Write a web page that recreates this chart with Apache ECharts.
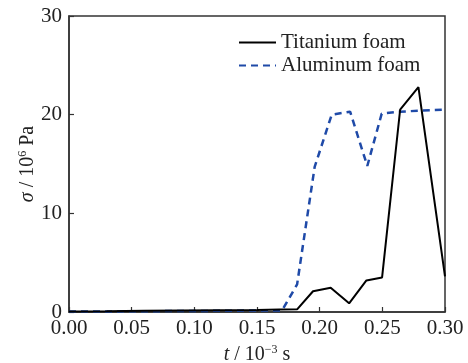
<!DOCTYPE html>
<html>
<head>
<meta charset="utf-8">
<script src="https://cdn.jsdelivr.net/npm/echarts@6/dist/echarts.min.js"></script>
<style>html,body{margin:0;padding:0;background:#fff}#c{width:468px;height:363px}</style>
</head>
<body>
<div id="c"></div>
<script>
const tiTime  = [0, 0.03, 0.06, 0.09, 0.12, 0.15, 0.168, 0.182, 0.1947, 0.2088, 0.2235, 0.2373, 0.2498, 0.2642, 0.2788, 0.300];
const tiStress = [0.05, 0.08, 0.12, 0.15, 0.18, 0.2, 0.25, 0.27, 2.1, 2.45, 0.88, 3.2, 3.5, 20.5, 22.8, 3.6];
const alTime  = [0, 0.03, 0.06, 0.09, 0.12, 0.15, 0.17, 0.182, 0.196, 0.2096, 0.2243, 0.238, 0.2495, 0.264, 0.2788, 0.300];
const alStress = [0.05, 0.05, 0.08, 0.1, 0.12, 0.15, 0.15, 2.8, 14.7, 20.0, 20.3, 14.8, 20.1, 20.3, 20.4, 20.5];
const xTicks = [0, 0.05, 0.10, 0.15, 0.20, 0.25, 0.30];
const yTicks = [0, 10, 20, 30];
const seriesNames = ['Titanium foam', 'Aluminum foam'];

const FONT = '"Liberation Serif", "Times New Roman", serif';
const zip = (a, b) => a.map((v, i) => [v, b[i]]);

const chart = echarts.init(document.getElementById('c'), null, {renderer: 'canvas'});
chart.setOption({
  animation: false,
  backgroundColor: '#fff',
  grid: {left: 69, right: 23, top: 16, bottom: 51, show: true, borderColor: '#333', borderWidth: 1.5,
         backgroundColor: 'transparent', containLabel: false, outerBoundsMode: 'none'},
  legend: {
    orient: 'vertical', left: 233, top: 27, itemWidth: 37, itemHeight: 14, itemGap: 2,
    data: seriesNames,
    itemStyle: {opacity: 0},
    textStyle: {fontFamily: FONT, fontSize: 21, color: '#222'}
  },
  xAxis: {
    type: 'value', min: 0, max: 0.3, interval: 0.05,
    axisLine: {show: true, lineStyle: {color: '#333', width: 1.5}},
    axisTick: {show: true, inside: true, length: 5, lineStyle: {color: '#333', width: 1.2}},
    splitLine: {show: false},
    axisLabel: {fontFamily: FONT, fontSize: 21, color: '#222', margin: 6,
      formatter: v => { const m = xTicks.find(t => Math.abs(t - v) < 1e-9); return m === undefined ? '' : m.toFixed(2); }},
    name: '{i|t} / 10{sup|−3} s', nameLocation: 'middle', nameGap: 32, nameMoveOverlap: false,
    nameTextStyle: {fontFamily: FONT, fontSize: 20, color: '#222',
      rich: {i: {fontFamily: FONT, fontSize: 20, fontStyle: 'italic', color: '#222'},
             sup: {fontFamily: FONT, fontSize: 12, verticalAlign: 'top', padding: [0, 0, 10, 0], color: '#222'}}}
  },
  yAxis: {
    type: 'value', min: 0, max: 30, interval: 10,
    axisLine: {show: true, lineStyle: {color: '#333', width: 1.5}},
    axisTick: {show: true, inside: true, length: 5, lineStyle: {color: '#333', width: 1.2}},
    splitLine: {show: false},
    axisLabel: {fontFamily: FONT, fontSize: 21, color: '#222', margin: 7,
      formatter: v => yTicks.includes(v) ? String(v) : ''},
    name: '{i|σ} / 10{sup|6} Pa', nameLocation: 'middle', nameGap: 30, nameRotate: 90, nameMoveOverlap: false,
    nameTextStyle: {fontFamily: FONT, fontSize: 20, color: '#222',
      rich: {i: {fontFamily: FONT, fontSize: 20, fontStyle: 'italic', color: '#222'},
             sup: {fontFamily: FONT, fontSize: 12, verticalAlign: 'top', padding: [0, 0, 10, 0], color: '#222'}}}
  },
  series: [
    {name: seriesNames[0], type: 'line', data: zip(tiTime, tiStress), symbol: 'none', showSymbol: false,
     lineStyle: {color: '#000', width: 2, type: 'solid'}, itemStyle: {color: '#000'}, z: 3},
    {name: seriesNames[1], type: 'line', data: zip(alTime, alStress), symbol: 'none', showSymbol: false,
     lineStyle: {color: '#1f4aa8', width: 2.5, type: [7, 5]}, itemStyle: {color: '#1f4aa8'}, z: 2}
  ]
});
</script>
</body>
</html>
